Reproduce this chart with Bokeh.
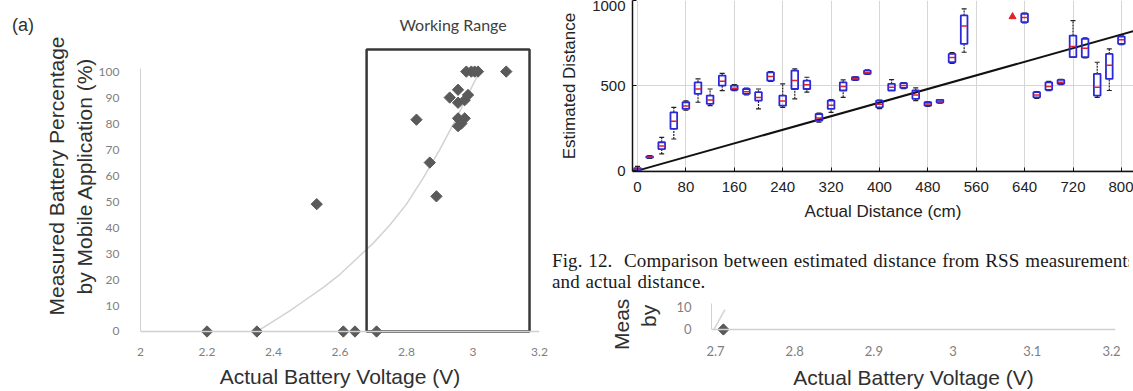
from math import pi
from bokeh.plotting import figure
from bokeh.layouts import row, column
from bokeh.models import FixedTicker, Span, Div
from bokeh.core.properties import value
from bokeh.embed import file_html
from bokeh.resources import INLINE

# ---------------- (a) battery chart data ----------------
battery_voltage = [2.20, 2.35, 2.61, 2.645, 2.71, 2.53, 2.83, 2.87, 2.89, 2.93, 2.955, 2.955,
                   2.975, 2.985, 2.955, 2.975, 2.955, 2.965, 2.98, 2.995, 3.005, 3.015, 3.10]
battery_percent = [0, 0, 0, 0, 0, 49, 81.5, 65, 52, 90, 93, 88,
                   89, 91, 82, 82, 79, 80, 100, 100, 100, 100, 100]
trend_voltage = [2.35, 2.40, 2.45, 2.50, 2.55, 2.60, 2.65, 2.70, 2.75, 2.80, 2.85, 2.90, 2.95, 3.00, 3.02]
trend_percent = [0, 4, 8, 12.5, 17, 22, 28, 34, 41, 49, 59, 70, 82, 95, 100]
working_range = [2.68, 3.17]
working_range_top = 108.5
volt_ticks = [2.0, 2.2, 2.4, 2.6, 2.8, 3.0, 3.2]
volt_tick_labels = ["2", "2.2", "2.4", "2.6", "2.8", "3", "3.2"]
pct_ticks = [0, 10, 20, 30, 40, 50, 60, 70, 80, 90, 100]

# ---------------- Fig. 12 distance chart data ----------------
actual_distance = [0, 20, 40, 60, 80, 100, 120, 140, 160, 180, 200, 220, 240, 260, 280, 300,
                   320, 340, 360, 380, 400, 420, 440, 460, 480, 500, 520, 540, 640, 660,
                   680, 700, 720, 740, 760, 780, 800]
est_low = [0, 72, 98, 186, 355, 402, 382, 470, 470, 445, 363, 525, 372, 422, 461, 285,
           343, 431, 530, 565, 365, 471, 482, 412, 378, 396, 630, 696, 868, 425,
           470, 505, 667, 662, 431, 471, 740]
est_q1 = [3, 76, 127, 245, 363, 451, 392, 500, 475, 451, 412, 529, 382, 480, 480, 294,
          363, 471, 533, 569, 372, 471, 486, 422, 382, 400, 637, 745, 873, 431,
          475, 510, 667, 667, 441, 539, 745]
est_median = [8, 80, 145, 290, 380, 480, 415, 525, 485, 463, 430, 553, 410, 530, 505, 310,
              385, 495, 540, 575, 390, 490, 500, 445, 392, 405, 665, 850, 900, 445,
              495, 520, 730, 720, 490, 620, 770]
est_q3 = [15, 84, 167, 343, 402, 519, 441, 559, 500, 480, 461, 578, 441, 588, 529, 333,
          412, 519, 549, 588, 412, 510, 514, 471, 402, 416, 686, 912, 922, 461,
          519, 533, 794, 775, 569, 686, 788]
est_high = [25, 88, 196, 372, 410, 539, 480, 572, 505, 485, 480, 582, 510, 598, 549, 338,
            418, 533, 552, 592, 415, 535, 518, 486, 404, 418, 694, 951, 926, 465,
            525, 536, 882, 780, 637, 716, 792]
single_distance = [620]
single_estimate = [905]
ideal_distance = [0, 820]
dist_ticks = [0, 80, 160, 240, 320, 400, 480, 560, 640, 720, 800]
est_ticks = [0, 500, 1000]

# ---------------- lower (cropped) battery chart data ----------------
zoom_voltage = [2.71]
zoom_percent = [0]
zoom_trend_voltage = [2.698, 2.712]
zoom_trend_percent = [0, 9]
zoom_volt_ticks = [2.7, 2.8, 2.9, 3.0, 3.1, 3.2]
zoom_volt_labels = ["2.7", "2.8", "2.9", "3", "3.1", "3.2"]
zoom_pct_ticks = [0, 10]

# =============== panel label "(a)" ===============
div_a = Div(width=40, height=391, margin=(0, 0, 0, 0),
            text=('<div style="font-family:\'Liberation Sans\',sans-serif;font-size:18px;'
                  'color:#303030;padding:13px 0 0 12px;margin:0;">(a)</div>'))

# =============== left figure (a) ===============
pa = figure(width=508, height=391, x_range=(2.0, 3.2), y_range=(-3.85, 123.5),
            output_backend="svg", toolbar_location=None, title=None,
            min_border_left=100, min_border_right=9, min_border_top=10, min_border_bottom=50)
pa.grid.visible = False
pa.outline_line_color = None

pa.xaxis.ticker = FixedTicker(ticks=volt_ticks)
pa.xaxis.major_label_overrides = {t: l for t, l in zip(volt_ticks, volt_tick_labels)}
pa.yaxis.ticker = FixedTicker(ticks=pct_ticks)
for ax in (pa.xaxis, pa.yaxis):
    ax.major_tick_line_color = None
    ax.minor_tick_line_color = None
    ax.major_label_text_font = "Lato"
    ax.major_label_text_font_size = "12px"
    ax.major_label_text_color = "#7f7f7f"
    ax.axis_label_text_font = "Liberation Sans"
    ax.axis_label_text_font_size = "21px"
    ax.axis_label_text_font_style = "normal"
    ax.axis_label_text_color = "#303030"
pa.xaxis.axis_line_color = None
pa.xaxis.major_label_standoff = 0
pa.xaxis.axis_label = "Actual Battery Voltage (V)"
pa.xaxis.axis_label_standoff = 6
pa.yaxis.bounds = (0, 101)
pa.yaxis.axis_line_color = "#d0d0d0"
pa.yaxis.major_label_standoff = 15
pa.yaxis.axis_label = "Measured Battery Percentage\nby Mobile Application (%)"
pa.yaxis.axis_label_standoff = 0
pa.yaxis.axis_label_text_line_height = 1.2

pa.add_layout(Span(location=0, dimension="width", line_color="#d0d0d0", line_width=1.5))
pa.line(trend_voltage, trend_percent, line_color="#d2d2d2", line_width=1.5)
pa.quad(left=[working_range[0]], right=[working_range[1]], bottom=[0], top=[working_range_top],
        fill_color=None, line_color="#383838", line_width=2.5)
pa.scatter(battery_voltage, battery_percent, marker="square", angle=pi / 4, size=8,
           fill_color="#5a5a5a", line_color="#5a5a5a")
pa.text(x=[sum(working_range) / 2 + 0.015], y=[118], text=["Working Range"], text_align="center",
        text_baseline="middle", text_font=value("Lato"), text_font_size="16px",
        text_color="#404040")

# =============== top-right figure (Fig. 12) ===============
pb = figure(width=585, height=235, x_range=(-8.3, 820), y_range=(-5, 1000),
            output_backend="svg", toolbar_location=None, title=None,
            min_border_left=84, min_border_right=0, min_border_top=0, min_border_bottom=64)
pb.outline_line_color = None
pb.xaxis.ticker = FixedTicker(ticks=dist_ticks)
pb.yaxis.ticker = FixedTicker(ticks=est_ticks)
pb.xgrid.ticker = FixedTicker(ticks=dist_ticks)
pb.ygrid.ticker = FixedTicker(ticks=est_ticks)
pb.grid.grid_line_color = "#d6d6d6"
pb.grid.grid_line_width = 1
for ax in (pb.xaxis, pb.yaxis):
    ax.axis_line_color = "#111111"
    ax.axis_line_width = 1.5
    ax.major_tick_in = 4
    ax.major_tick_out = 0
    ax.major_tick_line_color = "#111111"
    ax.minor_tick_line_color = None
    ax.major_label_text_font = "Liberation Sans"
    ax.major_label_text_font_size = "15px"
    ax.major_label_text_color = "#222222"
    ax.axis_label_text_font = "Liberation Sans"
    ax.axis_label_text_font_size = "17px"
    ax.axis_label_text_font_style = "normal"
    ax.axis_label_text_color = "#222222"
pb.xaxis.major_label_standoff = 10
pb.xaxis.axis_label = "Actual Distance (cm)"
pb.xaxis.axis_label_standoff = 7
pb.yaxis.major_label_standoff = 7
pb.yaxis.axis_label = "Estimated Distance"
pb.yaxis.axis_label_standoff = 10

pb.line(ideal_distance, ideal_distance, line_color="#111111", line_width=2)
box_w = 11
pb.segment(x0=actual_distance, y0=est_low, x1=actual_distance, y1=est_q1,
           line_color="#222222", line_width=1.2, line_dash="2 1")
pb.segment(x0=actual_distance, y0=est_q3, x1=actual_distance, y1=est_high,
           line_color="#222222", line_width=1.2, line_dash="2 1")
pb.dash(x=actual_distance, y=est_low, size=5, line_color="#222222", line_width=1.2)
pb.dash(x=actual_distance, y=est_high, size=5, line_color="#222222", line_width=1.2)
pb.vbar(x=actual_distance, width=box_w, bottom=est_q1, top=est_q3,
        fill_color=None, line_color="#2b28d8", line_width=1.8)
pb.dash(x=actual_distance, y=est_median, size=6, line_color="#e0202a", line_width=1.5)
pb.scatter(single_distance, single_estimate, marker="triangle", size=7,
           fill_color="#e0202a", line_color="#e0202a")

# =============== caption ===============
caption = Div(width=585, height=63, margin=(0, 0, 0, 0),
              styles={"overflow": "hidden"},
              text=('<div style="font-family:\'Liberation Serif\',serif;font-size:19px;'
                    'letter-spacing:0.1px;word-spacing:1px;'
                    'color:#1a1a1a;line-height:21px;white-space:nowrap;overflow:hidden;'
                    'width:581px;padding:15px 0 0 4px;margin:0;">'
                    'Fig. 12.&nbsp; Comparison between estimated distance from RSS measurements<br>'
                    'and actual distance.</div>'))

# =============== bottom-right (cropped) figure ===============
rot = ('position:absolute;white-space:nowrap;font-family:\'Liberation Sans\',sans-serif;'
       'font-size:21px;line-height:24px;color:#303030;transform-origin:0 0;'
       'transform:rotate(-90deg);')
div_mea = Div(width=120, height=93, margin=(0, 0, 0, 0),
              text=('<div style="position:relative;width:120px;height:93px;overflow:hidden;margin:0;">'
                    f'<span style="{rot}left:62px;top:52px;">Measured Battery Percentage</span>'
                    f'<span style="{rot}left:89px;top:29px;">by Mobile Application (%)</span>'
                    '</div>'))

pc = figure(width=465, height=93, x_range=(2.695, 3.205), y_range=(-2.73, 14.09),
            output_backend="svg", toolbar_location=None, title=None,
            min_border_left=43, min_border_right=18, min_border_top=0, min_border_bottom=56)
pc.grid.visible = False
pc.outline_line_color = None
pc.xaxis.ticker = FixedTicker(ticks=zoom_volt_ticks)
pc.xaxis.major_label_overrides = {t: l for t, l in zip(zoom_volt_ticks, zoom_volt_labels)}
pc.yaxis.ticker = FixedTicker(ticks=zoom_pct_ticks)
for ax in (pc.xaxis, pc.yaxis):
    ax.major_tick_line_color = None
    ax.minor_tick_line_color = None
    ax.major_label_text_font = "Lato"
    ax.major_label_text_font_size = "13px"
    ax.major_label_text_color = "#7f7f7f"
    ax.axis_label_text_font = "Liberation Sans"
    ax.axis_label_text_font_size = "21px"
    ax.axis_label_text_font_style = "normal"
    ax.axis_label_text_color = "#303030"
pc.xaxis.axis_line_color = None
pc.xaxis.major_label_standoff = 4
pc.xaxis.axis_label = "Actual Battery Voltage (V)"
pc.xaxis.axis_label_standoff = 7
pc.yaxis.bounds = (0, 12)
pc.yaxis.axis_line_color = "#d0d0d0"
pc.yaxis.major_label_standoff = 14
pc.add_layout(Span(location=0, dimension="width", line_color="#d0d0d0", line_width=1.5))
pc.line(zoom_trend_voltage, zoom_trend_percent, line_color="#d2d2d2", line_width=1.5)
pc.scatter(zoom_voltage, zoom_percent, marker="square", angle=pi / 4, size=8,
           fill_color="#5a5a5a", line_color="#5a5a5a")

layout = row(div_a, pa, column(pb, caption, row(div_mea, pc)))
open("out.html", "w").write(file_html(layout, INLINE))
